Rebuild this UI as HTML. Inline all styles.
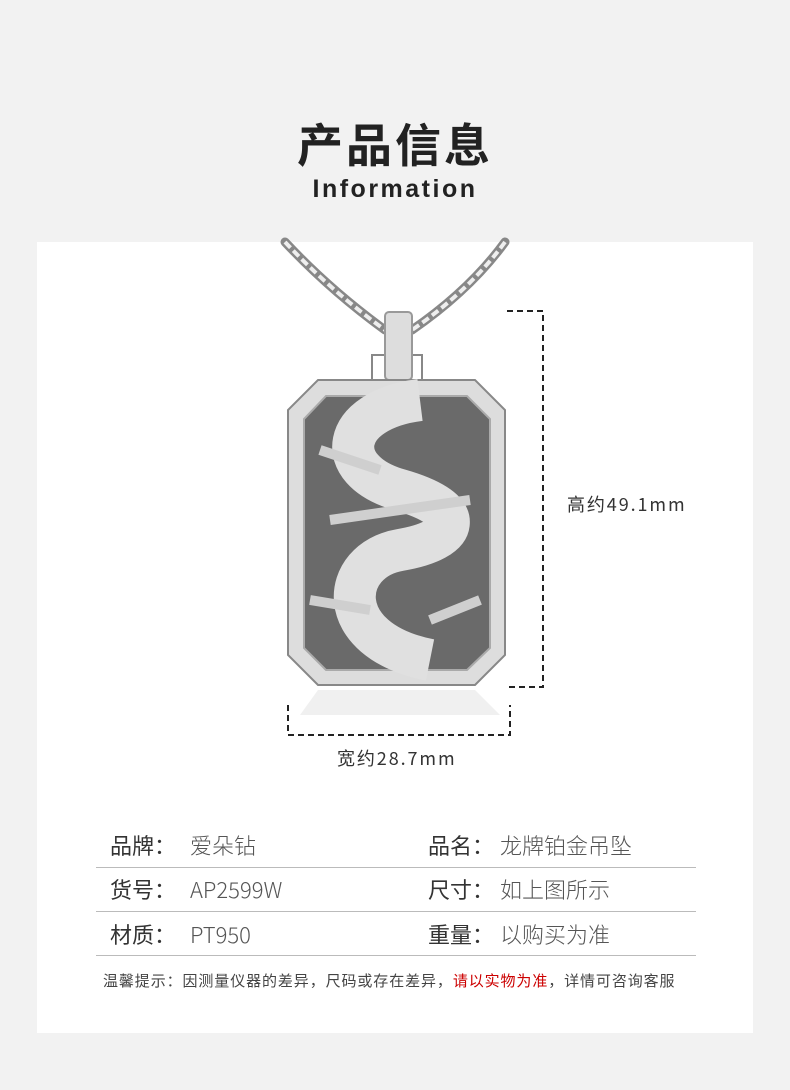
<!DOCTYPE html>
<html><head><meta charset="utf-8"><style>
body{margin:0;width:790px;height:1090px;background:#f2f2f2;position:relative;overflow:hidden;font-family:"Noto Sans CJK SC","Liberation Sans",sans-serif;}
.a{position:absolute;white-space:nowrap;line-height:1.2;}
.card{position:absolute;left:37px;top:242px;width:716px;height:791px;background:#fff;}
.t{font-size:22px;color:#333;}
.v{font-size:22px;color:#555;font-weight:300;}
.ln{position:absolute;left:96px;width:600px;height:1px;background:#bbb;}
</style></head><body>
<div class="a" style="left:0;width:790px;top:116px;text-align:center;font-size:46px;font-weight:bold;color:#222;letter-spacing:3px;">产品信息</div>
<div class="a" style="left:0;width:790px;top:174px;text-align:center;font-size:25px;font-weight:bold;color:#222;letter-spacing:2.5px;font-family:'Liberation Sans',sans-serif;">Information</div>
<div class="card"></div>
<svg class="a" style="left:0;top:0" width="790" height="1090">
 <g stroke="#888" stroke-width="9" fill="none" stroke-linecap="round">
  <path d="M285 242 Q330 290 385 330"/><path d="M505 242 Q470 290 412 330"/>
 </g>
 <g stroke="#eee" stroke-width="4" fill="none" stroke-dasharray="8 4">
  <path d="M285 242 Q330 290 385 330"/><path d="M505 242 Q470 290 412 330"/>
 </g>
 <rect x="372" y="355" width="50" height="25" fill="#fff" stroke="#888" stroke-width="2"/>
 <rect x="385" y="312" width="27" height="68" rx="4" fill="#ddd" stroke="#999" stroke-width="2"/>
 <polygon points="318,380 475,380 505,410 505,655 475,685 318,685 288,655 288,410" fill="#ddd" stroke="#888" stroke-width="2"/>
 <polygon points="326,396 467,396 490,419 490,648 467,670 326,670 304,648 304,419" fill="#6a6a6a" stroke="#aaa" stroke-width="2"/>
 <path d="M420 400 C340 410 330 470 400 490 C470 510 460 540 400 550 C340 560 330 640 430 660" stroke="#e0e0e0" stroke-width="42" fill="none"/>
 <path d="M320 450 L380 470 M330 520 L470 500 M310 600 L370 610 M430 620 L480 600" stroke="#cfcfcf" stroke-width="10"/>
 <polygon points="318,690 475,690 500,715 300,715" fill="#f0f0f0"/>
 <g stroke="#222" stroke-width="2" fill="none" stroke-dasharray="6 4">
  <path d="M507 311 H543 V687 H507"/>
  <path d="M288 705 V735 H510 V705"/>
 </g>
</svg>
<div class="a" style="left:567px;top:494px;font-size:18px;color:#333;letter-spacing:1.9px;">高约49.1mm</div>
<div class="a" style="left:337px;top:748px;font-size:18px;color:#333;letter-spacing:1.9px;">宽约28.7mm</div>
<div class="a t" style="left:110px;top:832px;">品牌：</div><div class="a v" style="left:190px;top:832px;">爱朵钻</div>
<div class="a t" style="left:428px;top:832px;">品名：</div><div class="a v" style="left:500px;top:832px;">龙牌铂金吊坠</div>
<div class="ln" style="top:867px"></div>
<div class="a t" style="left:110px;top:876px;">货号：</div><div class="a v" style="left:190px;top:876px;">AP2599W</div>
<div class="a t" style="left:428px;top:876px;">尺寸：</div><div class="a v" style="left:500px;top:876px;">如上图所示</div>
<div class="ln" style="top:911px"></div>
<div class="a t" style="left:110px;top:921px;">材质：</div><div class="a v" style="left:190px;top:921px;">PT950</div>
<div class="a t" style="left:428px;top:921px;">重量：</div><div class="a v" style="left:500px;top:921px;">以购买为准</div>
<div class="ln" style="top:955px"></div>
<div class="a" style="left:103px;top:972px;font-size:15px;color:#444;letter-spacing:0.9px;">温馨提示：因测量仪器的差异，尺码或存在差异，<span style="color:#c00">请以实物为准</span>，详情可咨询客服</div>
</body></html>
